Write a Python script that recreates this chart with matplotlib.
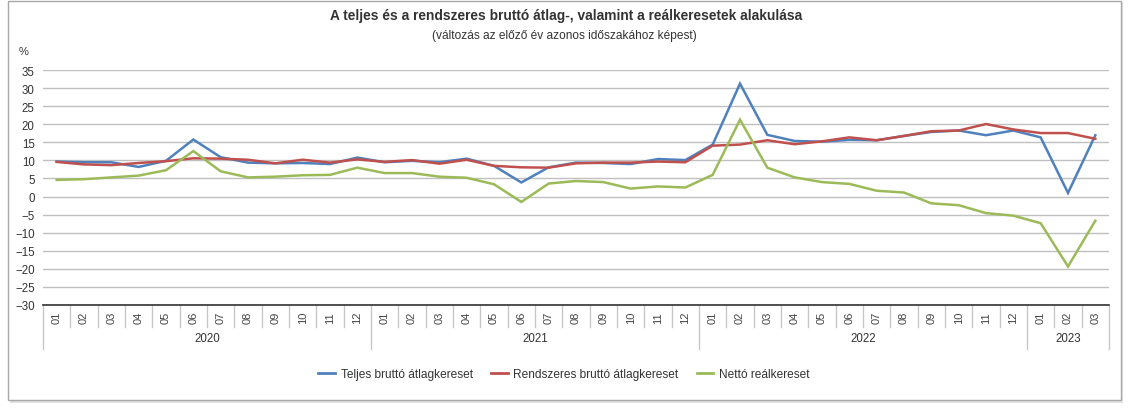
import matplotlib
matplotlib.use("Agg")
import matplotlib.pyplot as plt
from matplotlib.patches import Rectangle
import matplotlib.transforms as mtransforms

plt.rcParams['font.family'] = ['Liberation Sans', 'DejaVu Sans']

years = ["2020", "2021", "2022", "2023"]
months_per_year = [12, 12, 12, 3]
month_labels = ["01", "02", "03", "04", "05", "06", "07", "08", "09", "10", "11", "12"] * 3 + ["01", "02", "03"]

teljes = [9.7, 9.5, 9.5, 8.2, 9.9, 15.8, 10.9, 9.4, 9.2, 9.3, 9.0, 10.8,
          9.5, 9.9, 9.5, 10.5, 8.5, 3.9, 8.1, 9.4, 9.3, 9.0, 10.4, 10.1,
          14.4, 31.3, 17.1, 15.4, 15.2, 15.7, 15.6, 16.8, 17.9, 18.3, 17.0, 18.3,
          16.4, 1.0, 17.0]
rendszeres = [9.6, 8.9, 8.7, 9.3, 9.8, 10.6, 10.5, 10.2, 9.2, 10.2, 9.4, 10.3,
              9.6, 10.1, 9.1, 10.2, 8.5, 8.1, 8.0, 9.2, 9.4, 9.4, 9.7, 9.5,
              14.1, 14.4, 15.6, 14.5, 15.3, 16.4, 15.6, 16.8, 18.1, 18.3, 20.1, 18.6,
              17.6, 17.6, 16.0]
netto = [4.6, 4.8, 5.3, 5.8, 7.3, 12.6, 7.0, 5.3, 5.5, 5.9, 6.0, 8.0,
         6.5, 6.5, 5.5, 5.2, 3.4, -1.5, 3.6, 4.3, 4.0, 2.2, 2.8, 2.5,
         6.0, 21.3, 8.0, 5.3, 4.0, 3.5, 1.6, 1.1, -1.9, -2.4, -4.6, -5.3,
         -7.4, -19.4, -6.7]

series_names = ["Teljes bruttó átlagkereset", "Rendszeres bruttó átlagkereset", "Nettó reálkereset"]
colors = ["#4F81BD", "#C0504D", "#9BBB59"]

W, H = 1133, 414
fig = plt.figure(figsize=(W / 100, H / 100), dpi=100)
fig.patch.set_facecolor("white")

# outer frame with shadow
shadow = Rectangle((10 / W, 1 - 404 / H), (1113 / W), (401 / H), transform=fig.transFigure,
                   facecolor="#e2e2e2", edgecolor="none", zorder=0)
fig.patches.append(shadow)
frame = Rectangle((8 / W, 1 - 401 / H), (1113 / W), (399 / H), transform=fig.transFigure,
                  facecolor="white", edgecolor="#a8a8a8", lw=1, zorder=1)
fig.patches.append(frame)

left, right, top, bottom = 43, 1109, 71.3, 305.7
ax = fig.add_axes([left / W, 1 - bottom / H, (right - left) / W, (bottom - top) / H])
ax.set_facecolor("none")
ax.set_zorder(2)

x = list(range(len(teljes)))
for vals, name, c in zip([teljes, rendszeres, netto], series_names, colors):
    ax.plot(x, vals, color=c, lw=1.8, label=name, solid_joinstyle="miter", zorder=3)

ax.set_xlim(-0.5, len(x) - 0.5)
ax.set_ylim(-30, 35)
ax.set_yticks(range(-30, 36, 5))
ax.yaxis.grid(True, color="#c0c0c0", lw=1)
ax.set_axisbelow(True)
ax.tick_params(axis="y", length=0, pad=6, labelsize=8.3, colors="#333333")
ax.tick_params(axis="x", length=0, labelbottom=False)
for s in ["left", "right", "top"]:
    ax.spines[s].set_visible(False)
ax.spines["bottom"].set_color("#333333")
ax.spines["bottom"].set_linewidth(1.2)

trans = mtransforms.blended_transform_factory(ax.transData, ax.transAxes)
ph = bottom - top
m_sep = -(328 - bottom) / ph
y_sep = -(350 - bottom) / ph
m_lab = -(318 - bottom) / ph
y_lab = -(339 - bottom) / ph

for i, lab in enumerate(month_labels):
    ax.text(i, m_lab, lab, rotation=90, ha="center", va="center", fontsize=8,
            color="#444444", transform=trans, clip_on=False)

boundaries = [-0.5]
acc = -0.5
for n in months_per_year:
    acc += n
    boundaries.append(acc)
for i in range(len(x) + 1):
    b = i - 0.5
    ybot = y_sep if b in boundaries else m_sep
    ax.plot([b, b], [0, ybot], color="#c8c8c8", lw=1, transform=trans, clip_on=False)

start = -0.5
for yr, n in zip(years, months_per_year):
    ax.text(start + n / 2, y_lab, yr, ha="center", va="center", fontsize=8.3,
            color="#333333", transform=trans, clip_on=False)
    start += n

fig.text(566 / W, 1 - 16 / H, "A teljes és a rendszeres bruttó átlag-, valamint a reálkeresetek alakulása",
         ha="center", va="center", fontsize=9.9, fontweight="bold", color="#333333")
fig.text(564 / W, 1 - 36 / H, "(változás az előző év azonos időszakához képest)",
         ha="center", va="center", fontsize=8.6, color="#333333")
fig.text(19 / W, 1 - 52 / H, "%", ha="left", va="center", fontsize=8, color="#333333")

handles, labels = ax.get_legend_handles_labels()
leg = fig.legend(handles, labels, loc="center", bbox_to_anchor=(564 / W, 1 - 375 / H), ncol=3,
                 frameon=False, fontsize=8.6, handlelength=1.4, handletextpad=0.5, columnspacing=1.5)
for t in leg.get_texts():
    t.set_color("#333333")
for l in leg.get_lines():
    l.set_linewidth(2)

fig.savefig("out.png", dpi=100, facecolor="white")
